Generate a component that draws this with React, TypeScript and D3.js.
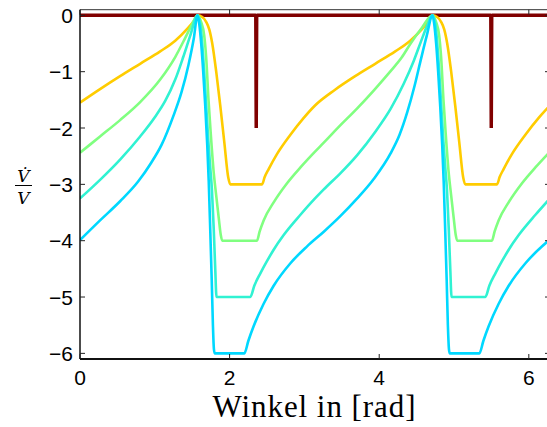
import React from "react";
import * as d3 from "d3";

// ---- data (x in rad, y = V'/V) ----
const xTicks = [0, 2, 4, 6];
const yTicks = [0, -1, -2, -3, -4, -5, -6];

const darkRed: [number, number][] = [
  [0, 0], [2.35, 0], [2.356, -2], [2.362, 0], [5.492, 0], [5.498, -2], [5.504, 0], [6.283, 0],
];

const yellow: [number, number][] = [
  [0, -1.55], [0.268, -1.31], [0.536, -1.08], [0.804, -0.86], [1.072, -0.64], [1.273, -0.45], [1.433, -0.24], [1.527, -0.09], [1.571, 0],
  [1.634, -0.03], [1.688, -0.12], [1.728, -0.25], [1.768, -0.5], [1.821, -1.0], [1.875, -1.6], [1.929, -2.25], [1.982, -2.88], [2.009, -3.0],
  [2.434, -3.0], [2.469, -2.87], [2.522, -2.73], [2.635, -2.46], [2.813, -2.12], [2.991, -1.82], [3.142, -1.6], [3.41, -1.32], [3.678, -1.08],
  [3.946, -0.86], [4.214, -0.64], [4.415, -0.45], [4.575, -0.24], [4.669, -0.09], [4.712, 0],
  [4.775, -0.03], [4.829, -0.12], [4.869, -0.25], [4.909, -0.5], [4.962, -1.0], [5.016, -1.6], [5.07, -2.25], [5.123, -2.88], [5.15, -3.0],
  [5.575, -3.0], [5.61, -2.87], [5.663, -2.73], [5.776, -2.46], [5.954, -2.12], [6.132, -1.82], [6.283, -1.6],
];

const green: [number, number][] = [
  [0, -2.44], [0.268, -2.15], [0.536, -1.86], [0.804, -1.54], [1.072, -1.14], [1.273, -0.74], [1.407, -0.4], [1.501, -0.15], [1.571, 0],
  [1.62, -0.12], [1.66, -0.35], [1.687, -0.75], [1.718, -1.5], [1.748, -2.1], [1.785, -2.75], [1.821, -3.2], [1.855, -3.6], [1.882, -3.9], [1.902, -4.0],
  [2.366, -4.0], [2.401, -3.84], [2.455, -3.64], [2.589, -3.32], [2.768, -2.98], [2.947, -2.7], [3.142, -2.42], [3.259, -2.26], [3.482, -1.95],
  [3.706, -1.65], [3.929, -1.33], [4.152, -0.99], [4.3, -0.75], [4.42, -0.5], [4.571, -0.22], [4.712, 0],
  [4.761, -0.12], [4.801, -0.35], [4.828, -0.75], [4.859, -1.5], [4.889, -2.1], [4.926, -2.75], [4.962, -3.2], [4.996, -3.6], [5.023, -3.9], [5.043, -4.0],
  [5.507, -4.0], [5.542, -3.84], [5.596, -3.64], [5.73, -3.32], [5.909, -2.98], [6.088, -2.7], [6.283, -2.42],
];

const aqua: [number, number][] = [
  [0, -3.25], [0.268, -2.92], [0.536, -2.56], [0.804, -2.15], [1.005, -1.8], [1.139, -1.52], [1.273, -1.14], [1.38, -0.74], [1.474, -0.36], [1.571, 0],
  [1.607, -0.15], [1.634, -0.5], [1.66, -1.0], [1.687, -1.6], [1.714, -2.2], [1.741, -2.7], [1.764, -3.1], [1.788, -3.8], [1.808, -4.5], [1.825, -5.0],
  [2.277, -5.0], [2.33, -4.8], [2.411, -4.58], [2.501, -4.36], [2.589, -4.16], [2.723, -3.9], [2.947, -3.54], [3.142, -3.25], [3.259, -3.09],
  [3.483, -2.8], [3.706, -2.48], [3.951, -2.06], [4.152, -1.66], [4.326, -1.22], [4.464, -0.8], [4.554, -0.48], [4.648, -0.16], [4.712, 0],
  [4.749, -0.15], [4.776, -0.5], [4.802, -1.0], [4.829, -1.6], [4.856, -2.2], [4.883, -2.7], [4.906, -3.1], [4.93, -3.8], [4.95, -4.5], [4.967, -5.0],
  [5.419, -5.0], [5.472, -4.8], [5.553, -4.58], [5.643, -4.36], [5.731, -4.16], [5.865, -3.9], [6.089, -3.54], [6.283, -3.25],
];

const cyan: [number, number][] = [
  [0, -3.99], [0.268, -3.64], [0.536, -3.3], [0.777, -2.95], [0.95, -2.62], [1.09, -2.3], [1.25, -1.78], [1.358, -1.36], [1.45, -0.88], [1.52, -0.42], [1.571, 0],
  [1.594, -0.15], [1.62, -0.5], [1.647, -1.0], [1.674, -1.6], [1.701, -2.3], [1.721, -2.95], [1.741, -3.8], [1.761, -4.7], [1.777, -5.5], [1.79, -5.92], [1.801, -6.0],
  [2.197, -6.0], [2.25, -5.78], [2.321, -5.52], [2.455, -5.12], [2.589, -4.8], [2.813, -4.4], [3.036, -4.1], [3.259, -3.84], [3.483, -3.56],
  [3.706, -3.25], [3.929, -2.9], [4.152, -2.45], [4.272, -2.12], [4.375, -1.72], [4.473, -1.25], [4.554, -0.8], [4.634, -0.37], [4.712, 0],
  [4.735, -0.15], [4.761, -0.5], [4.788, -1.0], [4.815, -1.6], [4.842, -2.3], [4.862, -2.95], [4.882, -3.8], [4.902, -4.7], [4.918, -5.5], [4.932, -5.92], [4.942, -6.0],
  [5.339, -6.0], [5.392, -5.78], [5.463, -5.52], [5.597, -5.12], [5.731, -4.8], [5.955, -4.4], [6.178, -4.1], [6.283, -3.98],
];

const colors = ["#FFCC00", "#80FF80", "#30F2D2", "#00D8FF"];
const curves = [yellow, green, aqua, cyan];

export default function App() {
  const W = 547, H = 427;
  const L = 80, R = 550, T = 9.7, B = 359;
  const x = d3.scaleLinear().domain([0, 2 * Math.PI]).range([L, R]);
  const y = d3.scaleLinear().domain([-6.1, 0.1]).range([B, T]);
  const smooth = d3.line<[number, number]>().x(d => x(d[0])).y(d => y(d[1])).curve(d3.curveMonotoneX);
  const straight = d3.line<[number, number]>().x(d => x(d[0])).y(d => y(d[1]));
  const fmt = (t: number) => (t < 0 ? "\u2212" + Math.abs(t) : String(t));
  const tick = 5;

  return (
    <svg width={W} height={H} style={{ position: "absolute", left: 0, top: 0, background: "#fff" }}>
      <defs>
        <clipPath id="plot">
          <rect x={L} y={T} width={R - L} height={B - T} />
        </clipPath>
      </defs>
      <rect x={0} y={0} width={W} height={H} fill="#fff" />
      <g clipPath="url(#plot)" fill="none">
        <path d={straight(darkRed) || ""} stroke="#800000" strokeWidth={3.5} strokeLinejoin="bevel" />
        {curves.map((c, i) => (
          <path key={i} d={smooth(c) || ""} stroke={colors[i]} strokeWidth={2.6} strokeLinejoin="round" />
        ))}
      </g>
      {/* axes box */}
      <line x1={L} x2={R} y1={T} y2={T} stroke="#333" strokeWidth={1} />
      <line x1={R} x2={R} y1={T} y2={B} stroke="#333" strokeWidth={1} />
      <line x1={L} x2={L} y1={T} y2={B} stroke="#111" strokeWidth={1.5} />
      <line x1={L} x2={R} y1={B} y2={B} stroke="#111" strokeWidth={1.8} />
      {xTicks.map(t => (
        <g key={"x" + t}>
          <line x1={x(t)} x2={x(t)} y1={B} y2={B - tick} stroke="#222" />
          <line x1={x(t)} x2={x(t)} y1={T} y2={T + tick} stroke="#222" />
          <text x={x(t)} y={385} textAnchor="middle" fontFamily="'Liberation Sans', Arial, sans-serif" fontSize={21} fill="#000">{fmt(t)}</text>
        </g>
      ))}
      {yTicks.map(t => (
        <g key={"y" + t}>
          <line x1={L} x2={L + tick} y1={y(t)} y2={y(t)} stroke="#222" />
          <line x1={R} x2={R - tick} y1={y(t)} y2={y(t)} stroke="#222" />
          <text x={73} y={y(t)} dy="0.36em" textAnchor="end" fontFamily="'Liberation Sans', Arial, sans-serif" fontSize={21} fill="#000">{fmt(t)}</text>
        </g>
      ))}
      <text x={(L + R) / 2 - 1} y={417} textAnchor="middle" fontFamily="'Liberation Serif', 'Times New Roman', serif" fontSize={31} textLength={203} lengthAdjust="spacing" fill="#000">Winkel in [rad]</text>
      {/* y label: V-dot over V */}
      <text x={23.5} y={182} textAnchor="middle" fontFamily="'DejaVu Serif', serif" fontStyle="italic" fontSize={17} fill="#000">{"V\u0307"}</text>
      <line x1={15} x2={32} y1={185.5} y2={185.5} stroke="#000" strokeWidth={1} />
      <text x={23.5} y={204} textAnchor="middle" fontFamily="'DejaVu Serif', serif" fontStyle="italic" fontSize={17} fill="#000">V</text>
    </svg>
  );
}
